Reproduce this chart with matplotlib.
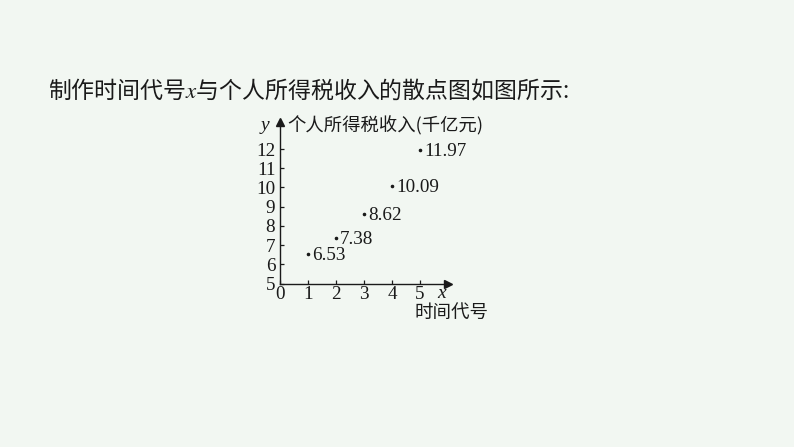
import matplotlib
matplotlib.use("Agg")
import matplotlib.pyplot as plt

plt.rcParams['font.family'] = ['Noto Sans CJK SC', 'DejaVu Sans']
plt.rcParams['mathtext.fontset'] = 'stix'

BG = '#f2f7f2'
INK = '#1a1a1a'
W, H = 794, 447

# data: time code vs personal income tax revenue (hundred billion yuan)
X = [1, 2, 3, 4, 5]
Y = [6.53, 7.38, 8.62, 10.09, 11.97]
LABELS = ['6.53', '7.38', '8.62', '10.09', '11.97']
XTICKS = [0, 1, 2, 3, 4, 5]
YTICKS = [5, 6, 7, 8, 9, 10, 11, 12]

fig = plt.figure(figsize=(W / 100, H / 100), dpi=100, facecolor=BG)

# axes placed in pixels: x=0 at 279.5px, 28.1 px/unit; y=5 at 283.5px from top, 19.2 px/unit
XMAX, YMIN, YMAX = 6.0, 5, 13.4
x0, y0 = 279.5, 283.5
ax = fig.add_axes([x0 / W, (H - y0) / H, XMAX * 28.1 / W, (YMAX - YMIN) * 19.2 / H])
ax.set_facecolor('none')
ax.set_xlim(0, XMAX)
ax.set_ylim(YMIN, YMAX)
for s in ['top', 'right']:
    ax.spines[s].set_visible(False)
for s in ['left', 'bottom']:
    ax.spines[s].set_color(INK)
    ax.spines[s].set_linewidth(1.0)

ax.set_xticks(XTICKS)
ax.set_yticks(YTICKS)
ax.tick_params(direction='in', length=3, width=0.9, color=INK, pad=3,
               labelsize=13.8, labelcolor=INK)
ax.tick_params(axis='x', pad=2)
for lab in ax.get_xticklabels() + ax.get_yticklabels():
    lab.set_family('Liberation Serif')

# arrow heads
ax.plot(1, 0, '>', color=INK, ms=6, transform=ax.transAxes, clip_on=False)
ax.plot(0, 1, '^', color=INK, ms=6, transform=ax.transAxes, clip_on=False)

ax.scatter(X, Y, s=2.5, color=INK, zorder=3, clip_on=False)
for xi, yi, t in zip(X, Y, LABELS):
    ax.annotate(t, (xi, yi), xytext=(3, -1), textcoords='offset points',
                va='center', ha='left', fontsize=13.8, color=INK,
                family='Liberation Serif')

# axis names
fig.text(265 / W, 1 - 125 / H, 'y', fontsize=14, style='italic', color=INK,
         family='Liberation Serif', ha='center', va='center')
fig.text(287 / W, 1 - 126 / H, '个人所得税收入(千亿元)', fontsize=13.2, color=INK,
         ha='left', va='center')
fig.text(442 / W, 1 - 293 / H, 'x', fontsize=14, style='italic', color=INK,
         family='Liberation Serif', ha='center', va='center')
fig.text(452 / W, 1 - 312.5 / H, '时间代号', fontsize=13.3, color=INK,
         ha='center', va='center')

# heading
fig.text(48 / W, 1 - 90 / H, '制作时间代号$x$与个人所得税收入的散点图如图所示:',
         fontsize=16.5, color=INK, ha='left', va='center')

fig.savefig('out.png', dpi=100, facecolor=BG)
